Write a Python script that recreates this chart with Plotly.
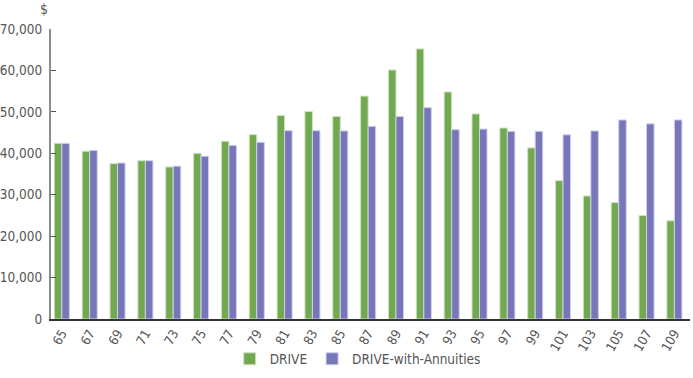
import plotly.graph_objects as go

ages = [str(a) for a in range(65, 110, 2)]
drive = [42400, 40500, 37500, 38200, 36700, 40000, 42900, 44500, 49100, 50100,
         48900, 53800, 60100, 65200, 54800, 49500, 46100, 41300, 33400, 29700,
         28100, 25000, 23700]
drive_ann = [42400, 40700, 37650, 38200, 36900, 39300, 41900, 42650, 45450, 45450,
             45400, 46500, 48900, 51000, 45700, 45850, 45300, 45300, 44450, 45400,
             48050, 47100, 48050]
y_ticks = [0, 10000, 20000, 30000, 40000, 50000, 60000, 70000]
y_labels = ["0", "10,000", "20,000", "30,000", "40,000", "50,000", "60,000", "70,000"]

FONT = "Liberation Sans Narrow, DejaVu Sans Condensed, Arial Narrow, sans-serif"

fig = go.Figure()
fig.add_trace(go.Bar(x=ages, y=drive, name="DRIVE",
                     marker=dict(color="#72a84f", line=dict(color="#cfe3c2", width=1))))
fig.add_trace(go.Bar(x=ages, y=drive_ann, name="DRIVE-with-Annuities",
                     marker=dict(color="#7676b8", line=dict(color="#cfcfea", width=1))))

fig.update_layout(
    width=693, height=378,
    margin=dict(l=51, r=3, t=29, b=52),
    plot_bgcolor="white", paper_bgcolor="white",
    barmode="group", bargap=0.46, bargroupgap=0,
    font=dict(family=FONT, size=14, color="#555555"),
    legend=dict(orientation="h", x=0.48, xanchor="center", y=-0.138, yanchor="middle",
                font=dict(family=FONT, size=13.5, color="#555555"),
                itemwidth=30, traceorder="normal"),
    xaxis=dict(type="category", range=[-0.39, 22.56], tickangle=-60,
               showline=True, linecolor="#333333", linewidth=1.5,
               ticks="", showgrid=False, tickfont=dict(size=13),
               zeroline=False, automargin=False),
    yaxis=dict(range=[0, 70000], tickvals=y_ticks, ticktext=y_labels,
               showline=True, linecolor="#8c8c8c", linewidth=2,
               ticks="inside", ticklen=5, tickcolor="#555555", tickwidth=1,
               showgrid=False, zeroline=False, tickfont=dict(size=13.5),
               ticklabelstandoff=4, automargin=False),
    annotations=[dict(text="$", x=-0.011, xref="paper", y=1.07, yref="paper",
                      yanchor="middle", xanchor="center", showarrow=False,
                      font=dict(family=FONT, size=14, color="#555555"))],
)

fig.write_html("out.html", config={"displayModeBar": False},
               post_script="document.body.style.margin='0';")
